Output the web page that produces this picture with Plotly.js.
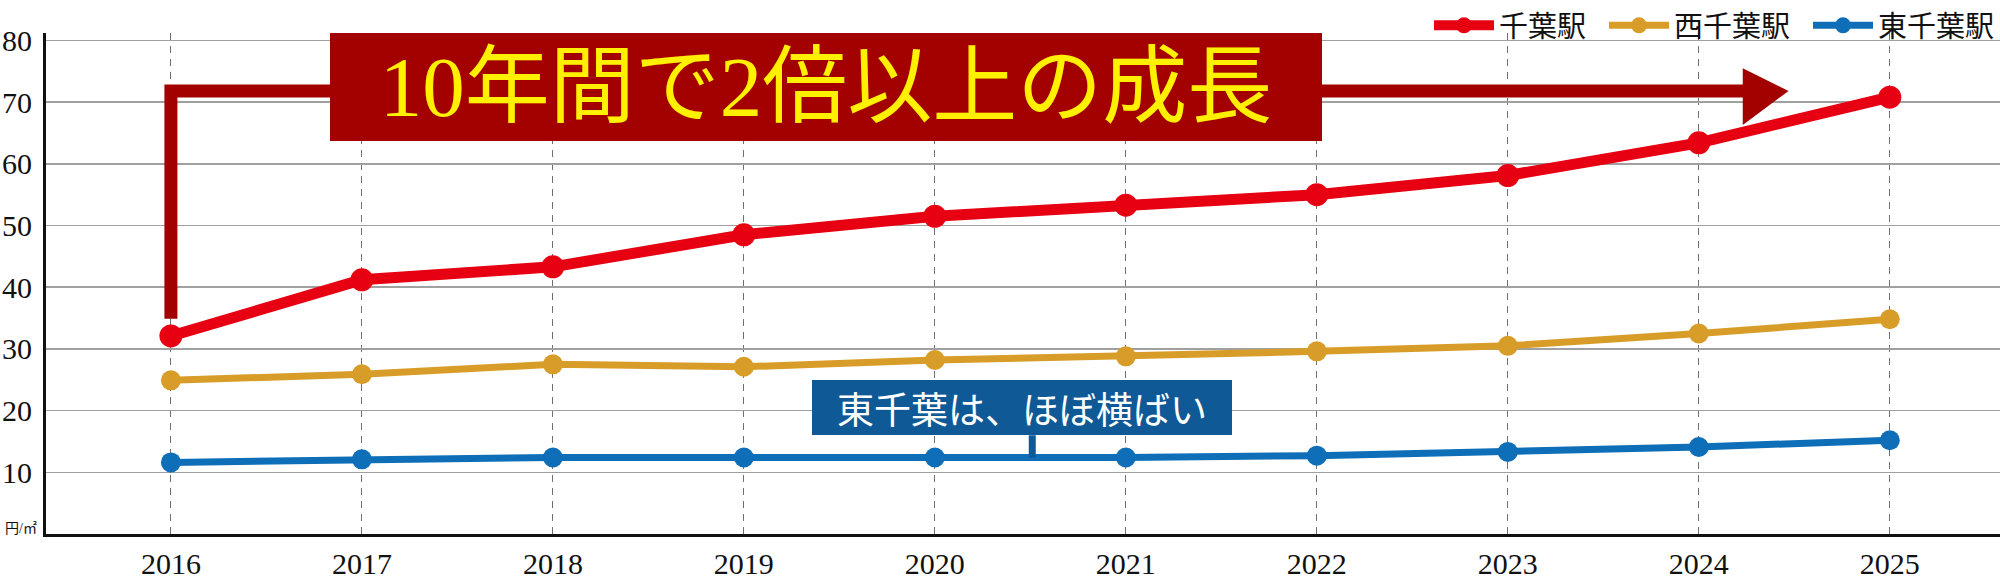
<!DOCTYPE html>
<html>
<head>
<meta charset="utf-8">
<script src="https://cdn.plot.ly/plotly-3.0.1.min.js"></script>
<style>
  html, body { margin: 0; padding: 0; background: #fff; }
  #plot { width: 2000px; height: 579px; }
</style>
</head>
<body>
<div id="plot"></div>
<script>
// 年ごとの平均単価（円/㎡）— 図から読み取った概算値
var years = [2016, 2017, 2018, 2019, 2020, 2021, 2022, 2023, 2024, 2025];
var chiba = [32.1, 41.2, 43.3, 48.5, 51.5, 53.3, 55.0, 58.1, 63.4, 70.8];
var nishiChiba = [24.9, 25.9, 27.5, 27.1, 28.2, 28.8, 29.6, 30.5, 32.5, 34.8];
var higashiChiba = [11.6, 12.1, 12.4, 12.4, 12.4, 12.4, 12.7, 13.3, 14.1, 15.2];
var yTicks = [10, 20, 30, 40, 50, 60, 70, 80];

var seriesNames = ['千葉駅', '西千葉駅', '東千葉駅'];
var seriesColors = ['#e60012', '#d89d28', '#0e6eb8'];

var serif = 'Liberation Serif, Times New Roman, serif';
var cjk = 'Noto Sans CJK JP, sans-serif';
var nb = '\u00a0\u00a0';  // 凡例の項目間を少し広げる

function lineTrace(y, i, lw, ms, pad) {
    return {
        x: years, y: y, name: seriesNames[i] + pad,
        type: 'scatter', mode: 'lines+markers',
        line: {color: seriesColors[i], width: lw},
        marker: {color: seriesColors[i], size: ms},
        cliponaxis: false
    };
}

var data = [
    lineTrace(chiba, 0, 11, 23, nb),
    lineTrace(nishiChiba, 1, 7, 20, nb),
    lineTrace(higashiChiba, 2, 7, 20, '')
];

var darkRed = '#a30000';
var calloutBlue = '#0f5a96';

var layout = {
    width: 2000, height: 579,
    margin: {l: 46, r: 0, t: 30, b: 45},
    paper_bgcolor: '#fff', plot_bgcolor: '#fff',
    font: {family: serif, color: '#111'},
    showlegend: true,
    legend: {
        orientation: 'h', x: 1, xanchor: 'right', y: 1.066, yanchor: 'top',
        font: {family: cjk, size: 29, color: '#111'},
        bgcolor: 'rgba(0,0,0,0)', itemwidth: 60, tracegroupgap: 0
    },
    xaxis: {
        range: [2015.346, 2025.577],
        tickvals: years, ticktext: years.map(String),
        showgrid: true, gridcolor: '#707070', gridwidth: 1, griddash: '7px,6px',
        showline: true, linecolor: '#111', linewidth: 3,
        ticks: '', ticklabelstandoff: 1,
        tickfont: {family: serif, size: 30, color: '#111'},
        zeroline: false, fixedrange: true
    },
    yaxis: {
        range: [0, 81.2],
        tickvals: yTicks, ticktext: yTicks.map(String),
        showgrid: true, gridcolor: '#a0a0a0', gridwidth: 1.5,
        showline: true, linecolor: '#111', linewidth: 3,
        ticks: '', ticklabelstandoff: 5,
        tickfont: {family: serif, size: 30, color: '#111'},
        zeroline: false, fixedrange: true
    },
    shapes: [
        // 千葉駅の上昇を示す矢印
        {type: 'path', xref: 'x', yref: 'y', layer: 'above',
         path: 'M2016,34.9 L2016,71.8 L2024.25,71.8',
         line: {color: darkRed, width: 13}},
        {type: 'path', xref: 'x', yref: 'y', layer: 'above',
         path: 'M2024.23,75.5 L2024.47,71.8 L2024.23,66.3 Z',
         fillcolor: darkRed, line: {color: darkRed, width: 0}},
        // 東千葉の吹き出し
        {type: 'line', xref: 'x', yref: 'y', layer: 'above',
         x0: 2020.51, x1: 2020.51, y0: 16.0, y1: 12.4,
         line: {color: calloutBlue, width: 7}}
    ],
    annotations: [
        {xref: 'x', yref: 'y', x: 2019.43, y: 72.5, xanchor: 'center', yanchor: 'middle',
         text: '10年間で2倍以上の成長', showarrow: false,
         font: {family: serif + ', ' + cjk, size: 85, color: '#fff000'},
         bgcolor: darkRed, width: 992, height: 108, borderpad: 0, borderwidth: 0},
        {xref: 'x', yref: 'y', x: 2020.455, y: 20.45, xanchor: 'center', yanchor: 'middle',
         text: '東千葉は、ほぼ横ばい', showarrow: false,
         font: {family: cjk, size: 37, color: '#fff'},
         bgcolor: calloutBlue, width: 420, height: 55, borderpad: 0, borderwidth: 0},
        {xref: 'paper', yref: 'y', x: 0, y: 0.9, xanchor: 'right', yanchor: 'middle', xshift: -7,
         text: '円/㎡', showarrow: false,
         font: {family: serif + ', ' + cjk, size: 14, color: '#111'}}
    ]
};

Plotly.newPlot('plot', data, layout, {displayModeBar: false, staticPlot: true});
</script>
</body>
</html>
